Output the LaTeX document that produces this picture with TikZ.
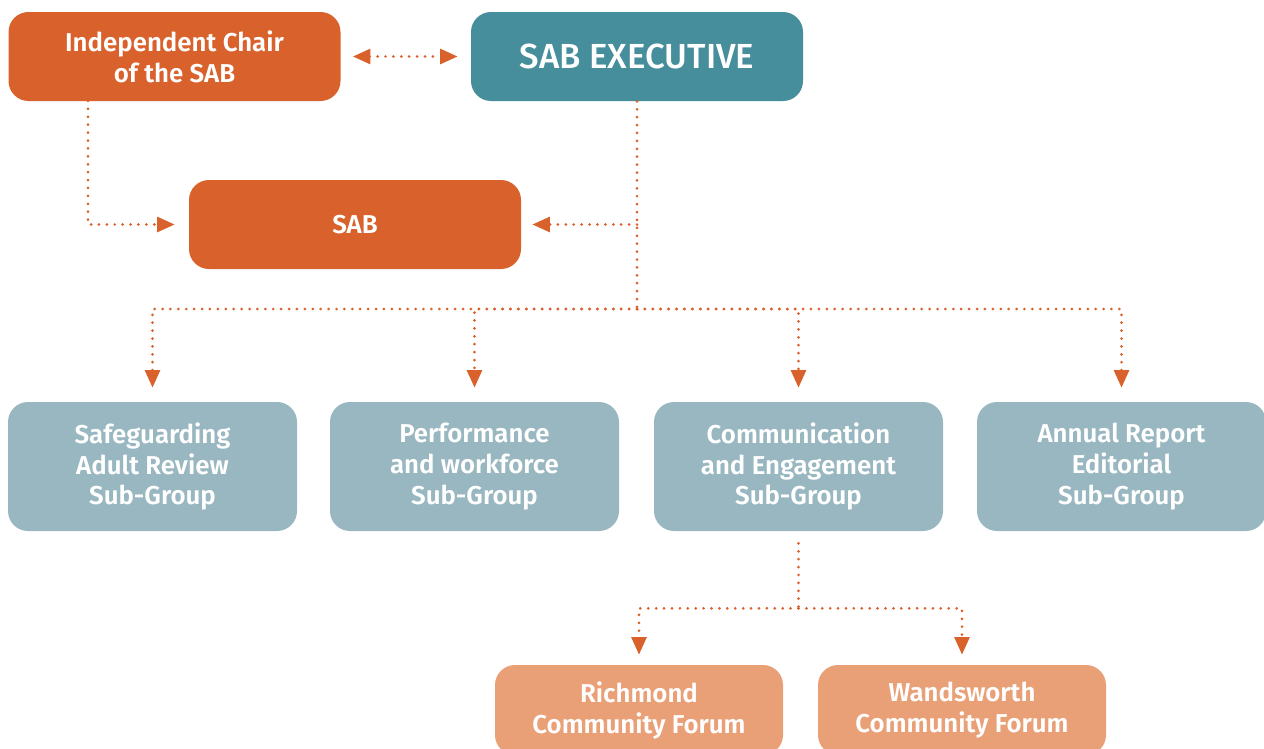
\documentclass[tikz,border=0pt]{standalone}
\usepackage{fontspec}
\setmainfont{Fira Sans}[BoldFont={Fira Sans SemiBold}]
\newfontfamily\mediumfont{Fira Sans Medium}
\usetikzlibrary{arrows.meta}

\definecolor{sabor}{HTML}{D9612B}
\definecolor{sabteal}{HTML}{468E9B}
\definecolor{sabgrey}{HTML}{98B7C0}
\definecolor{sabpeach}{HTML}{E9A077}

\begin{document}
\begin{tikzpicture}[
	box/.style={rounded corners=0.4cm, text=white, align=center, inner sep=0pt,
		font=\bfseries\fontsize{14.7}{17.6}\selectfont},
	board/.style={box, minimum width=6.64cm, minimum height=1.78cm},
	subgroup/.style={box, fill=sabgrey, minimum width=5.78cm, minimum height=2.58cm},
	forum/.style={box, fill=sabpeach, minimum width=5.76cm, minimum height=1.8cm},
	link/.style={sabor, line width=1.7pt, dash pattern=on 0pt off 4.5pt, line cap=round},
	tip/.style={link, -{Triangle[length=10pt,width=8.5pt]}, shorten >=0.28cm}
]
	\useasboundingbox (0,0) rectangle (25.28,-14.98);

	%board level
	\node[board, fill=sabor] (chair) at (3.49,-1.13) {Independent Chair\\of the SAB};
	\node[board, fill=sabteal, font=\mediumfont\fontsize{19.8}{23}\selectfont] (exec) at (12.74,-1.13) {SAB EXECUTIVE};
	\node[board, fill=sabor] (sab) at (7.10,-4.49) {SAB};

	%sub-groups
	\node[subgroup] (sg1) at (3.05,-9.33) {Safeguarding\\Adult Review\\Sub-Group};
	\node[subgroup] (sg2) at (9.49,-9.33) {Performance\\and workforce\\Sub-Group};
	\node[subgroup] (sg3) at (15.97,-9.33) {Communication\\and Engagement\\Sub-Group};
	\node[subgroup] (sg4) at (22.43,-9.33) {Annual Report\\Editorial\\Sub-Group};

	%forums
	\node[forum] (rf) at (12.78,-14.2) {Richmond\\Community Forum};
	\node[forum] (wf) at (19.24,-14.2) {Wandsworth\\Community Forum};

	%chair and executive
	\draw[link, {Triangle[length=10pt,width=8.5pt]}-{Triangle[length=10pt,width=8.5pt]},
		shorten <=0.24cm, shorten >=0.26cm] (chair) -- (exec);
	\coordinate (cs) at (1.76,-2.02);
	\draw[tip] (cs) |- (sab.west);

	%executive down to the sub-groups
	\coordinate (bus) at (12.74,-6.18);
	\draw[link] (exec.south) -- (bus);
	\draw[tip, shorten >=0.22cm] (exec.south |- sab.east) -- (sab.east);
	\foreach \g in {sg1,sg2,sg3,sg4}
		\draw[tip] (bus) -| (\g.north);

	%communication to forums
	\coordinate (fj) at ([yshift=-1.54cm]sg3.south);
	\draw[link, shorten <=0.24cm] (sg3.south) -- (fj);
	\draw[tip, shorten >=0.2cm] (fj) -| (rf.north);
	\draw[tip, shorten >=0.2cm] (fj) -| (wf.north);
\end{tikzpicture}
\end{document}
